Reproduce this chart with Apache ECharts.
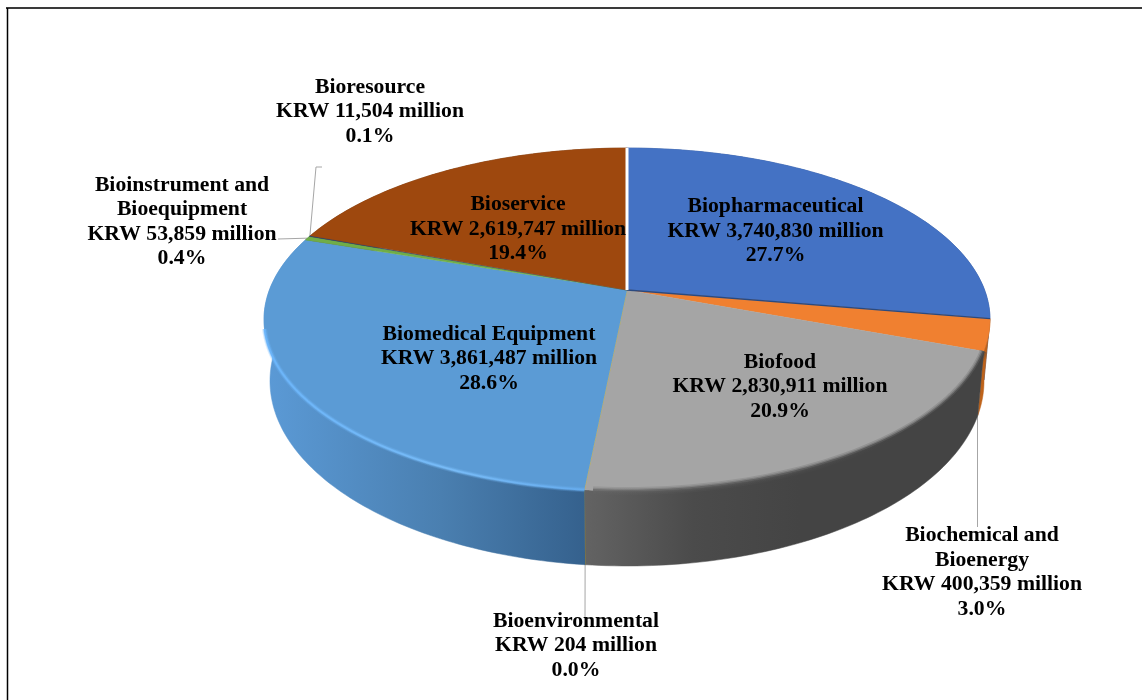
<!DOCTYPE html>
<html><head><meta charset="utf-8">
<style>html,body{margin:0;padding:0;background:#fff}#c{width:1142px;height:700px}</style>
<script src="https://cdn.jsdelivr.net/npm/echarts@6/dist/echarts.min.js"></script>
</head><body><div id="c"></div>
<script>
// ---- data
const categories = ['Biopharmaceutical','Biochemical and\nBioenergy','Biofood','Bioenvironmental','Biomedical Equipment','Bioinstrument and\nBioequipment','Bioresource','Bioservice'];
const valuesMillionKRW = [3740830,400359,2830911,204,3861487,53859,11504,2619747];
// ---- styles
const faceColors = ['#4472c4','#f08030','#a5a5a5','#ffc000','#5b9bd5','#70ad47','#264478','#9e480e'];
const wallStops = [
  [[0,'#2f5597'],[1,'#2f5597']],
  [[0,'#c96a20'],[1,'#b85f18']],
  [[0,'#636363'],[0.5,'#4b4b4b'],[1,'#444444']],
  [[0,'#b38600'],[1,'#b38600']],
  [[0,'#5b9ad6'],[0.55,'#4a7fb0'],[1,'#35618d']],
  [[0,'#4e7a32'],[1,'#4e7a32']],
  [[0,'#1a3055'],[1,'#1a3055']],
  [[0,'#6f3209'],[1,'#6f3209']]
];
const wallRange = [[960,995],[960,995],[585,800],[580,590],[265,585],[300,320],[300,320],[310,630]];
// ---- layout: label centres, leader paths (inner end comes from the slice)
const labelPos = [[775.5,231.5],[982,573],[780,387],[576,646],[489,359],[182,222.5],[370,112],[518,229.5]];
const labelFontSize = 20, labelStretch = 1.085;
const leaderPaths = {1:[[977.5,400],[977.5,527]],3:[[585,618]],5:[[278,239]],6:[[316,167],[322,167]]};
const leaderRing = {1:'top',3:'bottom',5:'top',6:'top'};
const K = 0.172;
const rings = {
  top:{cx:627,cy:290,a:357.6,b:166.4},
  bottom:{cx:627,cy:349.2,a:351.7,b:179.5}
};
// ---- geometry derived from the values
const total = valuesMillionKRW.reduce((s,v)=>s+v,0);
const starts = [];
valuesMillionKRW.reduce((s,v,i)=>{starts[i]=s;return s+v;},0);
const ang = v => v/total*Math.PI*2;
function pt(theta,ringName,r){
  r = r===undefined?1:r;
  const R = rings[ringName], u=r*Math.sin(theta), v=r*Math.cos(theta), d=1+K*v;
  return [R.cx+R.a*u/d, R.cy-R.b*v/d];
}
function arc(t0,t1,ringName,r){
  const n=Math.max(2,Math.ceil(Math.abs(t1-t0)/(Math.PI/180)));
  const out=[];
  for(let i=0;i<=n;i++) out.push(pt(t0+(t1-t0)*i/n,ringName,r));
  return out;
}
const gx=(x0,x1,stops)=>new echarts.graphic.LinearGradient(x0,0,x1,0,stops.map(s=>({offset:s[0],color:s[1]})),true);
const fmt=v=>v.toLocaleString('en-US');
const labelText=i=>categories[i]+'\nKRW '+fmt(valuesMillionKRW[i])+' million\n'+(100*valuesMillionKRW[i]/total).toFixed(1)+'%';
const seriesData=valuesMillionKRW.map((v,i)=>({name:categories[i].replace('\n',' '),value:v}));
function span(i){const t0=ang(starts[i]);return [t0,t0+ang(valuesMillionKRW[i])];}

function renderLeader(p,api){
  const i=p.dataIndex; const path=leaderPaths[i];
  if(!path) return {type:'group',children:[]};
  const s=span(i), a=pt((s[0]+s[1])/2,leaderRing[i]);
  return {type:'polyline',shape:{points:[a].concat(path)},style:{fill:null,stroke:'#a6a6a6',lineWidth:1}};
}
function renderWall(p,api){
  const i=p.dataIndex, s=span(i);
  const pts=arc(s[0],s[1],'top').concat(arc(s[1],s[0],'bottom'));
  const f=gx(wallRange[i][0],wallRange[i][1],wallStops[i]);
  return {type:'polygon',shape:{points:pts},style:{fill:f,stroke:f,lineWidth:0.5}};
}
function rimLayers(points,color,layers){
  return layers.map(l=>({type:'polyline',shape:{points:points},style:{fill:null,stroke:color,lineWidth:l[0],opacity:l[1]}}));
}
function renderFace(p,api){
  const i=p.dataIndex, s=span(i);
  const pts=[pt(0,'top',0)].concat(arc(s[0],s[1],'top'));
  return {type:'polygon',shape:{points:pts},style:{fill:faceColors[i],stroke:faceColors[i],lineWidth:0.4}};
}
function renderDetail(p,api){
  const i=p.dataIndex, s=span(i), kids=[];
  if(i===4){
    kids.push(...rimLayers(arc(s[0],s[1]-0.55,'top',1),gx(265,584,[[0,'#6cb6fb'],[0.6,'#78bcf8'],[1,'#66acee']]),[[5,0.25],[3,0.5],[1.6,0.9]]));
  }
  if(i===2){
    kids.push(...rimLayers(arc(s[0],s[1]-0.02,'top',1),gx(585,900,[[0,'#666666'],[1,'#444444']]),[[8,0.2],[5,0.35],[2.5,0.7]]));
  }
  if(i===0){
    const c=pt(0,'top',0);
    kids.push({type:'polyline',shape:{points:[c,pt(s[1],'top',1)]},style:{fill:null,stroke:'#2a4a80',lineWidth:1.4}});
    kids.push({type:'polyline',shape:{points:[c,pt(s[0],'top',1)]},style:{fill:null,stroke:'#ffffff',lineWidth:3}});
  }
  return {type:'group',children:kids};
}
function renderLabel(p,api){
  const i=p.dataIndex;
  return {type:'text',x:labelPos[i][0],y:labelPos[i][1],scaleX:labelStretch,style:{text:labelText(i),x:0,y:0,align:'center',verticalAlign:'middle',
    font:'bold '+labelFontSize+'px "Liberation Serif"',fill:'#000',lineHeight:24.5}};
}
const mk=(fn,z)=>({type:'custom',coordinateSystem:'none',renderItem:fn,data:seriesData,z:z,silent:true,animation:false});
const chart=echarts.init(document.getElementById('c'),null,{renderer:'canvas'});
chart.setOption({
  backgroundColor:'#fff',animation:false,
  graphic:[
    {type:'line',shape:{x1:6,y1:8,x2:1142,y2:8},style:{stroke:'#3a3a3a',lineWidth:2},z:0},
    {type:'line',shape:{x1:7.5,y1:8,x2:7.5,y2:700},style:{stroke:'#000',lineWidth:1.5},z:0}
  ],
  series:[mk(renderLeader,1),mk(renderWall,2),mk(renderFace,3),mk(renderDetail,4),mk(renderLabel,5)]
});
</script></body></html>
